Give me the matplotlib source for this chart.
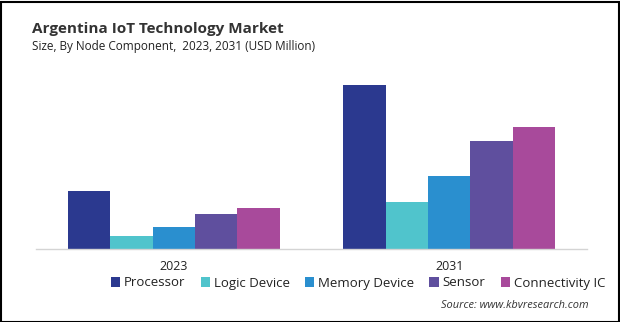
import matplotlib.pyplot as plt
import numpy as np

# Datos del mercado (USD Million)
years = ['2023', '2031']
components = ['Processor', 'Logic Device', 'Memory Device', 'Sensor', 'Connectivity IC']
processor = [58, 164]
logic_device = [13, 47]
memory_device = [22, 73]
sensor = [35, 108]
connectivity_ic = [41, 122]
colors = ['#2b398f', '#50c4cc', '#2a8fcf', '#5f4f9e', '#a84a9b']

series = [processor, logic_device, memory_device, sensor, connectivity_ic]

W, H = 620, 322
fig = plt.figure(figsize=(W / 100, H / 100), dpi=100)
plt.rcParams['font.family'] = ['Open Sans', 'DejaVu Sans']

# ejes en coordenadas de pixel
ax = fig.add_axes([36 / W, (H - 249) / H, (587 - 36) / W, 180 / H])
x = np.arange(len(years))
ancho = 0.154
for i, (vals, c) in enumerate(zip(series, colors)):
    ax.bar(x + (i - 2) * ancho, vals, ancho, color=c, label=components[i])

ax.set_xlim(-0.5, 1.5)
ax.set_ylim(0, 180)
ax.set_yticks([])
ax.set_xticks(x)
ax.set_xticklabels(years, fontsize=9, color='#222222')
ax.tick_params(axis='x', length=0, pad=8)
for s in ['top', 'right', 'left']:
    ax.spines[s].set_visible(False)
ax.spines['bottom'].set_color('#d4d4d4')
ax.spines['bottom'].set_linewidth(1)

fig.text(32 / W, 1 - 33 / H, 'Argentina IoT Technology Market', fontsize=11,
         fontweight='bold', color='#333333')
fig.text(32 / W, 1 - 50 / H, 'Size, By Node Component,  2023, 2031 (USD Million)',
         fontsize=8.5, color='#222222')

leg = fig.legend(loc='center', bbox_to_anchor=(358 / W, 1 - 283 / H), ncol=5,
                 frameon=False, fontsize=9.5, handlelength=0.7, handleheight=0.7,
                 handletextpad=0.3, columnspacing=1.15, borderaxespad=0)
for t in leg.get_texts():
    t.set_color('#222222')

fig.text(441 / W, 1 - 305 / H, 'Source: www.kbvresearch.com', fontsize=7.9,
         style='italic', color='#333333', ha='left', va='center')

# marco negro alrededor de la figura
fig.patches.append(plt.Rectangle((0.5 / W, 0.5 / H), 1 - 2 / W, 1 - 2 / H,
                                 transform=fig.transFigure, fill=False,
                                 edgecolor='black', linewidth=1.5))

fig.savefig('out.png', dpi=100)
